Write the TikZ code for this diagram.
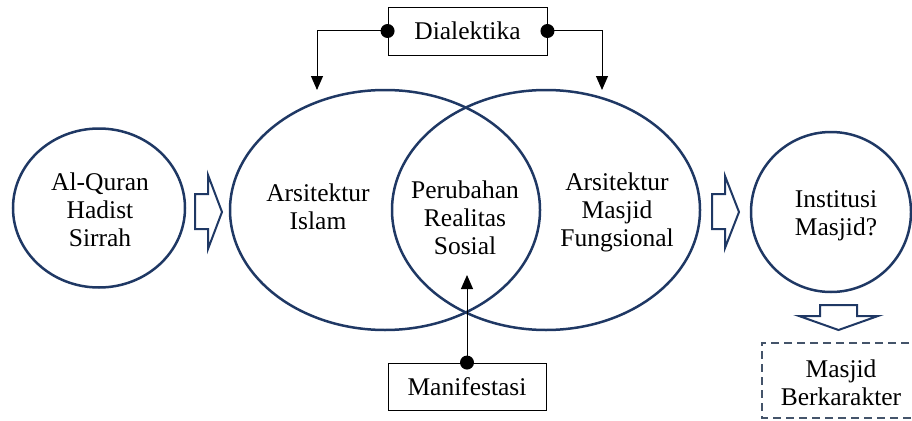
\documentclass[tikz,border=0pt]{standalone}
\usepackage{fontspec}
\setmainfont{Liberation Serif}
\usetikzlibrary{shapes.geometric,arrows.meta}
\definecolor{navy}{HTML}{1F3864}
\definecolor{slate}{HTML}{44546A}
\begin{document}
\begin{tikzpicture}[x=1pt,y=-1pt,
  every node/.style={font=\fontsize{25.5}{28}\selectfont, align=center, inner sep=0pt},
  oval/.style={ellipse, draw=navy, line width=2.5pt, inner sep=0pt},
  labelbox/.style={draw=black, line width=0.9pt, rectangle},
  dashbox/.style={draw=slate, dash pattern=on 8pt off 5pt, line width=1.8pt},
  blockarrow/.style={draw=navy, line width=2pt, line join=miter},
  link/.style={draw=black, line width=1pt},
  tipend/.style={-{Triangle[width=12pt,length=14pt]}}]
\useasboundingbox (0,0) rectangle (912,420);

% ovals
\node[oval, minimum width=172pt, minimum height=159pt] (src) at (99,208) {};
\node[oval, minimum width=310pt, minimum height=240pt] (islam) at (385,210) {};
\node[oval, minimum width=308pt, minimum height=240pt] (fung) at (546,210) {};
\node[oval, minimum width=160pt, minimum height=160pt] (inst) at (831,212) {};

% texts
\node (srcT) at (100,209.5) {Al-Quran\\Hadist\\Sirrah};
\node (islamT) at (318,206.5) {Arsitektur\\Islam};
\node (perT) at (465,217.5) {Perubahan\\Realitas\\Sosial};
\node (fungT) at (617,212.5) {Arsitektur\\Masjid\\Fungsional};
\node (instT) at (836,215.5) {Institusi\\Masjid?};

% boxes
\node[labelbox, minimum width=159pt, minimum height=48pt] (dial) at (467.5,31) {Dialektika};
\node[labelbox, minimum width=158pt, minimum height=47pt] (mani) at (467,386.5) {Manifestasi};
\node[minimum width=160pt, minimum height=75pt] (berk) at (842,380.5) {};
\draw[dashbox] (berk.north east) -- (berk.north west) -- (berk.south west) -- (berk.south east);
\node (berkT) at (841,383) {Masjid\\Berkarakter};

% connectors
\coordinate (dl) at (317,90);
\coordinate (dr) at (602,90);
\draw[link, tipend] (dial.west) -| (dl);
\draw[link, tipend] (dial.east) -| (dr);
\fill (dial.west) circle (7pt);
\fill (dial.east) circle (7pt);
\coordinate (mt) at (467,275);
\draw[link, tipend] (mani.north) -- (mt);
\fill (mani.north) circle (7pt);

% block arrows
\draw[blockarrow] (195,194) -- (208,194) -- (208,175) -- (222,212) -- (208,249) -- (208,229) -- (195,229) -- cycle;
\draw[blockarrow] (712,194) -- (725,194) -- (725,176) -- (739,212) -- (725,248) -- (725,229) -- (712,229) -- cycle;
\draw[blockarrow] (820,305) -- (857,305) -- (857,316) -- (878,316) -- (838.5,330) -- (799,316) -- (820,316) -- cycle;
\end{tikzpicture}
\end{document}
